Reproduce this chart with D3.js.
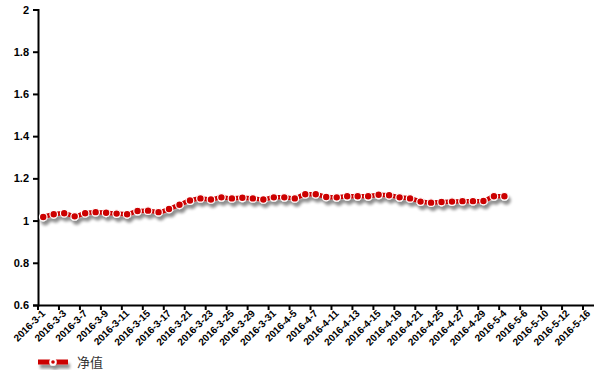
<!DOCTYPE html>
<html><head><meta charset="utf-8">
<script src="https://cdn.jsdelivr.net/npm/d3@7"></script>
<style>body{margin:0;background:#fff}svg{display:block}</style>
</head><body>
<script>
const categories = ["2016-3-1","2016-3-2","2016-3-3","2016-3-4","2016-3-7","2016-3-8","2016-3-9","2016-3-10","2016-3-11","2016-3-14","2016-3-15","2016-3-16","2016-3-17","2016-3-18","2016-3-21","2016-3-22","2016-3-23","2016-3-24","2016-3-25","2016-3-28","2016-3-29","2016-3-30","2016-3-31","2016-4-1","2016-4-5","2016-4-6","2016-4-7","2016-4-8","2016-4-11","2016-4-12","2016-4-13","2016-4-14","2016-4-15","2016-4-18","2016-4-19","2016-4-20","2016-4-21","2016-4-22","2016-4-25","2016-4-26","2016-4-27","2016-4-28","2016-4-29","2016-5-3","2016-5-4","2016-5-5","2016-5-6","2016-5-9","2016-5-10","2016-5-11","2016-5-12","2016-5-13","2016-5-16"];
const navValues = [1.017,1.03,1.035,1.02,1.035,1.04,1.037,1.033,1.03,1.045,1.047,1.04,1.055,1.075,1.095,1.105,1.10,1.11,1.105,1.108,1.105,1.10,1.11,1.11,1.105,1.125,1.125,1.112,1.11,1.115,1.115,1.115,1.122,1.12,1.11,1.105,1.09,1.085,1.088,1.09,1.092,1.092,1.093,1.115,1.115];
const yTicks = [0.6,0.8,1,1.2,1.4,1.6,1.8,2];
const seriesName = "净值";

const W=600,H=370;
const svg=d3.select("body").append("svg").attr("width",W).attr("height",H);
const defs=svg.append("defs");
const f=defs.append("filter").attr("id","sh").attr("x","-10%").attr("y","-50%").attr("width","130%").attr("height","300%");
f.append("feGaussianBlur").attr("in","SourceAlpha").attr("stdDeviation",1.8).attr("result","b");
f.append("feOffset").attr("in","b").attr("dx",2).attr("dy",4).attr("result","o");
f.append("feComponentTransfer").attr("in","o").attr("result","o2").append("feFuncA").attr("type","linear").attr("slope",0.45);
const m=f.append("feMerge");m.append("feMergeNode").attr("in","o2");m.append("feMergeNode").attr("in","SourceGraphic");

const x0=38,x1=593.5,yTop=9.5,yBot=305;
const x=d3.scaleBand().domain(categories).range([x0,x1]).paddingInner(0).paddingOuter(0);
const y=d3.scaleLinear().domain([0.6,2]).range([yBot,yTop]);
const font='Arial, "Liberation Sans", sans-serif';

// Y axis
const ya=svg.append("g").attr("transform",`translate(${x0},0)`).call(d3.axisLeft(y).tickValues(yTicks).tickFormat(d3.format("")).tickSize(5).tickPadding(4));
ya.select(".domain").attr("stroke","#000").attr("stroke-width",2);
ya.selectAll(".tick line").attr("stroke","#000").attr("stroke-width",2);
ya.selectAll("text").attr("font-family",font).attr("font-weight","bold").attr("font-size",11).attr("fill","#000");

// X axis
const xa=svg.append("g").attr("transform",`translate(0,${yBot})`).call(d3.axisBottom(x).tickValues(categories.filter((d,i)=>i%2===0)).tickSize(5).tickSizeOuter(0));
xa.selectAll(".tick").attr("transform",d=>`translate(${x(d)},0)`);
xa.select(".domain").attr("stroke","#000").attr("stroke-width",2);
xa.selectAll(".tick line").attr("stroke","#000").attr("stroke-width",2);
xa.selectAll("text").attr("font-family",font).attr("font-weight","bold").attr("font-size",10).attr("fill","#000")
  .attr("text-anchor","end").attr("dy",0).attr("y",0).attr("transform","translate(8,9) rotate(-45)");

// Line
const cx=(d,i)=>x(categories[i])+x.bandwidth()/2;
const g=svg.append("g").attr("filter","url(#sh)");
g.append("path").datum(navValues).attr("fill","none").attr("stroke","#cc0000").attr("stroke-width",4.5)
  .attr("stroke-linejoin","round").attr("d",d3.line().x(cx).y(d=>y(d)).curve(d3.curveMonotoneX));
g.selectAll("circle").data(navValues).join("circle").attr("cx",cx).attr("cy",d=>y(d)).attr("r",3.8)
  .attr("fill","#cc0000").attr("stroke","#fff").attr("stroke-width",1.2);

// Legend
const lg=svg.append("g").attr("filter","url(#sh)");
lg.append("line").attr("x1",38).attr("x2",68).attr("y1",362).attr("y2",362).attr("stroke","#cc0000").attr("stroke-width",5);
lg.append("circle").attr("cx",53).attr("cy",362).attr("r",3.8).attr("fill","#fff");
lg.append("circle").attr("cx",53).attr("cy",362).attr("r",1.8).attr("fill","#cc0000");
svg.append("text").attr("x",77).attr("y",367).attr("font-family",'"Noto Sans CJK SC", sans-serif').attr("font-size",13).attr("fill","#333").text(seriesName);
</script>
</body></html>
